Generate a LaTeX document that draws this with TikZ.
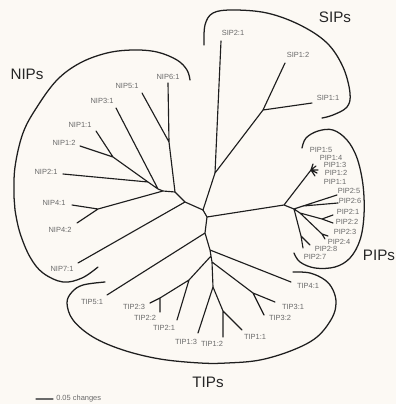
\documentclass[tikz,border=0pt]{standalone}
\usepackage{fontspec}
\setmainfont{Liberation Sans}
\definecolor{bgc}{HTML}{FCF9F4}
\definecolor{lblc}{HTML}{6A6A6A}
\definecolor{linec}{HTML}{1E1E1E}
\begin{document}
\begin{tikzpicture}[x=0.75pt,y=-0.75pt,
  branch/.style={draw=linec,line width=0.85pt,line cap=round,line join=round},
  grploop/.style={draw=linec,line width=0.95pt,line cap=round},
  lbl/.style={text=lblc,inner sep=0pt,font=\fontsize{5.6}{6}\selectfont},
  grp/.style={text=black!85,inner sep=0pt,font=\fontsize{11.4}{12}\selectfont}]
\fill[bgc] (0,0) rectangle (396,404);
\useasboundingbox (0,0) rectangle (396,404);

% ---------- internal nodes ----------
\coordinate (nA) at (113,157);
\coordinate (nB) at (148,182);
\coordinate (nC) at (158,189);
\coordinate (nN4) at (98,209);
\coordinate (nD) at (163,191);
\coordinate (nF) at (169,142);
\coordinate (nE) at (175,192);
\coordinate (nG) at (185,202);
\coordinate (nH) at (203,210);
\coordinate (nS) at (215,173);
\coordinate (nS1) at (263,110);
\coordinate (nI) at (207,217);
\coordinate (nP) at (284,205);
\coordinate (nP1) at (311,170);
\coordinate (nP2) at (294,209);
\coordinate (nPa) at (303,206);
\coordinate (nPb) at (300,213);
\coordinate (nPc) at (322,219);
\coordinate (nPd) at (322,234);
\coordinate (nPe) at (301,236);
\coordinate (nJ) at (205,233);
\coordinate (nK) at (210,250);
\coordinate (nR) at (211,256);
\coordinate (nR3) at (212,262);
\coordinate (nT2) at (189,280);
\coordinate (nT2a) at (160,298);
\coordinate (nT1) at (213,287);
\coordinate (nT1a) at (223,311);
\coordinate (nT3) at (253,293);

% ---------- tips ----------
\coordinate (e11) at (96,131);
\coordinate (e12) at (80,146);
\coordinate (e21) at (63,174);
\coordinate (e31) at (116,108);
\coordinate (e41) at (72,205);
\coordinate (e42) at (77,223);
\coordinate (e51) at (142,93);
\coordinate (e61) at (168,83);
\coordinate (e71) at (78,263);
\coordinate (s21) at (221,41);
\coordinate (s12) at (285,63);
\coordinate (s11) at (312,103);
\coordinate (q1) at (313,164);
\coordinate (q2) at (316,166);
\coordinate (q3) at (318,170);
\coordinate (q4) at (317,173);
\coordinate (q5) at (315,176);
\coordinate (r25) at (337,195);
\coordinate (r26) at (338,203);
\coordinate (r21) at (333,215);
\coordinate (r22) at (333,223);
\coordinate (r23) at (328,236);
\coordinate (r24) at (325,239);
\coordinate (r28) at (310,245);
\coordinate (r27) at (303,248);
\coordinate (u51) at (107,295);
\coordinate (u41) at (291,282);
\coordinate (u31) at (275,302);
\coordinate (u32) at (264,315);
\coordinate (u23) at (150,303);
\coordinate (u22) at (160,312);
\coordinate (u21) at (177,320);
\coordinate (u13) at (198,333);
\coordinate (u12) at (223,337);
\coordinate (u11) at (242,330);

% ---------- branches ----------
\draw[branch] (e11) -- (nA) (e12) -- (nA) -- (nB) (e21) -- (nB) -- (nC)
  (e31) -- (nC) -- (nD) (e41) -- (nN4) (e42) -- (nN4) -- (nD) -- (nE)
  (e51) -- (nF) (e61) -- (nF) -- (nE) -- (nG) (e71) -- (nG) -- (nH);
\draw[branch] (nH) -- (nS) (s21) -- (nS) -- (nS1) (s12) -- (nS1) (s11) -- (nS1);
\draw[branch] (nH) -- (nI) -- (nP) -- (nP1) (nP) -- (nP2);
\draw[branch] (nP1) -- (q1) (nP1) -- (q2) (nP1) -- (q3) (nP1) -- (q4) (nP1) -- (q5);
\draw[branch] (nP2) -- (nPa) (nPa) -- (r25) (nPa) -- (r26)
  (nP2) -- (nPb) -- (nPc) (nPc) -- (r21) (nPc) -- (r22)
  (nPb) -- (nPd) (nPd) -- (r23) (nPd) -- (r24)
  (nP2) -- (nPe) (nPe) -- (r28) (nPe) -- (r27);
\draw[branch] (nI) -- (nJ) -- (nK) (u51) -- (nJ)
  (nK) -- (u41) (nK) -- (nR) -- (nR3)
  (nR) -- (nT2) (nT2) -- (nT2a) (nT2a) -- (u23) (nT2a) -- (u22) (nT2) -- (u21)
  (nR3) -- (nT1) (nT1) -- (u13) (nT1) -- (nT1a) (nT1a) -- (u12) (nT1a) -- (u11)
  (nR3) -- (nT3) (nT3) -- (u31) (nT3) -- (u32);

% ---------- tip labels ----------
\node[lbl] (lN61) at (168,77) {NIP6:1};
\node[lbl] (lN51) at (127,86) {NIP5:1};
\node[lbl] (lN31) at (102,101) {NIP3:1};
\node[lbl] (lN11) at (80,125) {NIP1:1};
\node[lbl] (lN12) at (64,143) {NIP1:2};
\node[lbl] (lN21) at (46,172) {NIP2:1};
\node[lbl] (lN41) at (54,203) {NIP4:1};
\node[lbl] (lN42) at (60,230) {NIP4:2};
\node[lbl] (lN71) at (62,269) {NIP7:1};
\node[lbl] (lS21) at (233,33) {SIP2:1};
\node[lbl] (lS12) at (298,55) {SIP1:2};
\node[lbl] (lS11) at (328,98) {SIP1:1};
\node[lbl] (lP15) at (321,150) {PIP1:5};
\node[lbl] (lP14) at (331,158) {PIP1:4};
\node[lbl] (lP13) at (335,165) {PIP1:3};
\node[lbl] (lP12) at (336,173) {PIP1:2};
\node[lbl] (lP11) at (335,182) {PIP1:1};
\node[lbl] (lP25) at (349,191) {PIP2:5};
\node[lbl] (lP26) at (350,201) {PIP2:6};
\node[lbl] (lP21) at (348,212) {PIP2:1};
\node[lbl] (lP22) at (347,222) {PIP2:2};
\node[lbl] (lP23) at (345,232) {PIP2:3};
\node[lbl] (lP24) at (339,242) {PIP2:4};
\node[lbl] (lP28) at (326,249) {PIP2:8};
\node[lbl] (lP27) at (315,257) {PIP2:7};
\node[lbl] (lT51) at (92,302) {TIP5:1};
\node[lbl] (lT23) at (134,307) {TIP2:3};
\node[lbl] (lT22) at (145,318) {TIP2:2};
\node[lbl] (lT21) at (164,328) {TIP2:1};
\node[lbl] (lT13) at (186,342) {TIP1:3};
\node[lbl] (lT12) at (212,344) {TIP1:2};
\node[lbl] (lT11) at (255,337) {TIP1:1};
\node[lbl] (lT32) at (280,318) {TIP3:2};
\node[lbl] (lT31) at (293,307) {TIP3:1};
\node[lbl] (lT41) at (308,286) {TIP4:1};

% ---------- group loops ----------
\draw[grploop] plot[smooth,tension=0.6] coordinates {(204,45) (205,25) (213,13) (233,10) (267,13) (300,25) (327,43) (343,67) (350,93) (347,107) (333,115) (322,118)};
\draw[grploop] plot[smooth,tension=0.6] coordinates {(190,80) (187,70) (177,60) (157,52) (133,50) (107,53) (80,63) (57,80) (37,107) (23,133) (15,167) (14,197) (15,210) (20,233) (30,257) (43,273) (63,282) (82,278) (98,267)};
\draw[grploop] plot[smooth,tension=0.6] coordinates {(302,148) (306,138) (318,131) (333,130) (347,140) (357,158) (363,185) (364,215) (360,240) (350,258) (335,267) (315,268) (300,262) (294,253)};
\draw[grploop] plot[smooth,tension=0.6] coordinates {(293,272) (310,273) (325,280) (333,290) (336,303) (332,318) (317,337) (293,350) (260,360) (227,363) (200,363) (160,359) (123,350) (93,337) (73,320) (67,303) (72,292) (83,285) (105,282)};

% ---------- group labels ----------
\node[grp] (gN) at (27,74) {NIPs};
\node[grp] (gS) at (335,17) {SIPs};
\node[grp] (gP) at (379,255) {PIPs};
\node[grp] (gT) at (208,382) {TIPs};

% ---------- scale bar ----------
\coordinate (sb1) at (36,399);
\coordinate (sb2) at (53,399);
\draw[branch,draw=lblc] (sb1) -- (sb2);
\node[lbl,anchor=west] (sbl) at (56,399) {0.05 changes};
\end{tikzpicture}
\end{document}
